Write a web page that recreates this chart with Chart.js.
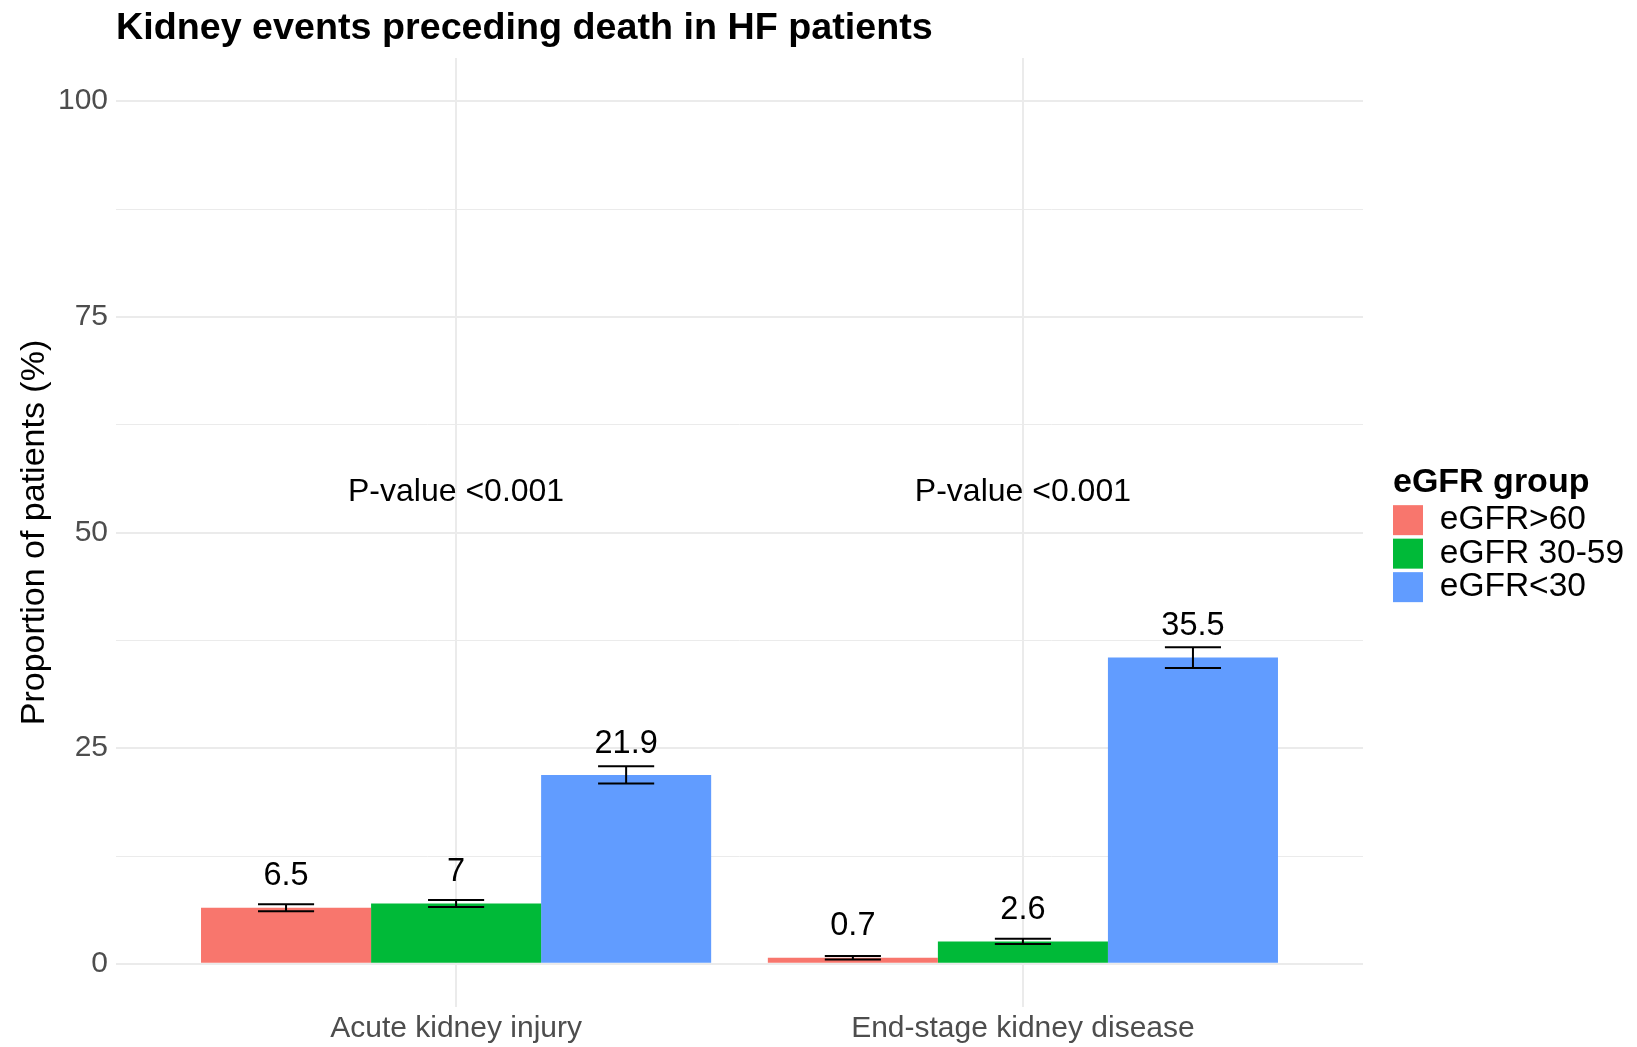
<!DOCTYPE html>
<html>
<head>
<meta charset="utf-8">
<script src="https://cdn.jsdelivr.net/npm/chart.js@4.4.1/dist/chart.umd.min.js"></script>
<style>
  html, body { margin: 0; padding: 0; background: #fff; }
  #wrap { width: 1637px; height: 1047px; }
</style>
</head>
<body>
<div id="wrap"><canvas id="myChart"></canvas></div>
<script>
// =====> Data <=====
const categories = ['Acute kidney injury', 'End-stage kidney disease'];
const groups = ['eGFR>60', 'eGFR 30-59', 'eGFR<30'];

const gt60 = [6.5, 0.7];
const mid3059 = [7, 2.6];
const lt30 = [21.9, 35.5];

// error bars (lower / upper)
const gt60Low = [6.1, 0.5];
const gt60High = [6.9, 0.9];
const midLow = [6.6, 2.3];
const midHigh = [7.4, 2.9];
const lt30Low = [20.9, 34.3];
const lt30High = [22.9, 36.7];

const pValueLabels = ['P-value <0.001', 'P-value <0.001'];
const pValueY = 55;

const yTicks = [0, 25, 50, 75, 100];
// =====> Data <=====

const FONT = '"Liberation Sans", Arial, Helvetica, sans-serif';
const colors = ['#F8766D', '#00BA38', '#619CFF'];
const gridColor = '#ebebeb';

// minor grid lines halfway between the major ticks (ggplot style)
const allTicks = [];
yTicks.forEach((t, i) => {
  allTicks.push(t);
  if (i < yTicks.length - 1) allTicks.push((t + yTicks[i + 1]) / 2);
});

function toPoints(arr) {
  return arr.map((v, i) => ({ x: i, y: v }));
}

const series = [
  { label: groups[0], values: gt60, low: gt60Low, high: gt60High },
  { label: groups[1], values: mid3059, low: midLow, high: midHigh },
  { label: groups[2], values: lt30, low: lt30Low, high: lt30High }
];

const legendLeft = 1393;   // where the legend should start
let padRight = 20;         // corrected after the first layout

// error bars, value labels and p-values
const extras = {
  id: 'extras',
  afterDatasetsDraw(chart) {
    const ctx = chart.ctx;
    const yS = chart.scales.y;
    const xS = chart.scales.x;
    ctx.save();
    chart.data.datasets.forEach((ds, i) => {
      const meta = chart.getDatasetMeta(i);
      meta.data.forEach((bar, j) => {
        const half = bar.width * 0.165;
        const top = yS.getPixelForValue(ds.high[j]);
        const bot = yS.getPixelForValue(ds.low[j]);
        ctx.strokeStyle = '#000';
        ctx.lineWidth = 2;
        ctx.beginPath();
        ctx.moveTo(bar.x - half, top); ctx.lineTo(bar.x + half, top);
        ctx.moveTo(bar.x, top); ctx.lineTo(bar.x, bot);
        ctx.moveTo(bar.x - half, bot); ctx.lineTo(bar.x + half, bot);
        ctx.stroke();

        const v = ds.data[j].y;
        ctx.fillStyle = '#000';
        ctx.font = '32.5px ' + FONT;
        ctx.textAlign = 'center';
        ctx.textBaseline = 'alphabetic';
        ctx.fillText(String(v), bar.x, yS.getPixelForValue(v + 2.6));
      });
    });

    ctx.font = '32px ' + FONT;
    ctx.fillStyle = '#000';
    ctx.textAlign = 'center';
    ctx.textBaseline = 'alphabetic';
    pValueLabels.forEach((t, i) => {
      ctx.fillText(t, xS.getPixelForValue(i), yS.getPixelForValue(pValueY) + 32 * 0.36);
    });
    ctx.restore();
  }
};

const ctx = document.getElementById('myChart').getContext('2d');

const chart = new Chart(ctx, {
  type: 'bar',
  data: {
    datasets: series.map((s, i) => ({
      label: s.label,
      data: toPoints(s.values),
      low: s.low,
      high: s.high,
      backgroundColor: colors[i],
      borderWidth: 0,
      categoryPercentage: 0.9,
      barPercentage: 1.0
    }))
  },
  options: {
    responsive: true,
    maintainAspectRatio: false,
    animation: false,
    devicePixelRatio: 1,
    layout: { padding: { left: 0, right: padRight, top: 0, bottom: 0 } },
    scales: {
      x: {
        type: 'linear',
        min: -0.6,
        max: 1.6,
        offset: false,
        afterBuildTicks: s => { s.ticks = categories.map((c, i) => ({ value: i })); },
        afterFit: s => { s.height = 40; },
        ticks: {
          callback: v => categories[v],
          color: '#4d4d4d',
          font: { size: 30, family: FONT },
          padding: 4,
          maxRotation: 0,
          autoSkip: false
        },
        grid: { color: gridColor, lineWidth: 2, drawTicks: false, offset: false },
        border: { display: false }
      },
      y: {
        min: -5,
        max: 105,
        afterBuildTicks: s => { s.ticks = allTicks.map(v => ({ value: v })); },
        afterFit: s => { s.width = 116; },
        ticks: {
          callback: v => (yTicks.includes(v) ? String(v) : ''),
          color: '#4d4d4d',
          font: { size: 30, family: FONT },
          padding: 8
        },
        grid: {
          color: gridColor,
          lineWidth: c => (yTicks.includes(c.tick.value) ? 2 : 1),
          drawTicks: false
        },
        border: { display: false },
        title: {
          display: true,
          text: 'Proportion of patients (%)',
          color: '#000',
          font: { size: 34, family: FONT },
          padding: { top: 14, bottom: 0 }
        }
      },
      // empty spacer between the panel and the legend
      yR: {
        type: 'linear',
        position: 'right',
        display: true,
        grid: { display: false, drawTicks: false },
        ticks: { display: false },
        border: { display: false },
        afterFit: s => { s.width = 30; }
      }
    },
    plugins: {
      title: {
        display: true,
        text: 'Kidney events preceding death in HF patients',
        align: 'start',
        fullSize: false,
        color: '#000',
        font: { size: 37.7, weight: 'bold', family: FONT },
        padding: { top: 6, bottom: 6.8 }
      },
      legend: {
        position: 'right',
        align: 'center',
        title: {
          display: true,
          text: 'eGFR group',
          position: 'start',
          color: '#000',
          font: { size: 34, weight: 'bold', family: FONT },
          padding: { top: 22.5, bottom: -3 }
        },
        labels: {
          boxWidth: 30,
          boxHeight: 30,
          padding: 0,
          color: '#000',
          font: { size: 33.5, family: FONT }
        }
      },
      tooltip: { enabled: false }
    }
  },
  plugins: [extras]
});

// move the legend so it starts at legendLeft, keeping the spacer in front of it
const diff = chart.legend.left - legendLeft;
if (Math.abs(diff) > 0.5) {
  chart.options.layout.padding.right = Math.max(0, padRight + diff);
  chart.update();
}
</script>
</body>
</html>
